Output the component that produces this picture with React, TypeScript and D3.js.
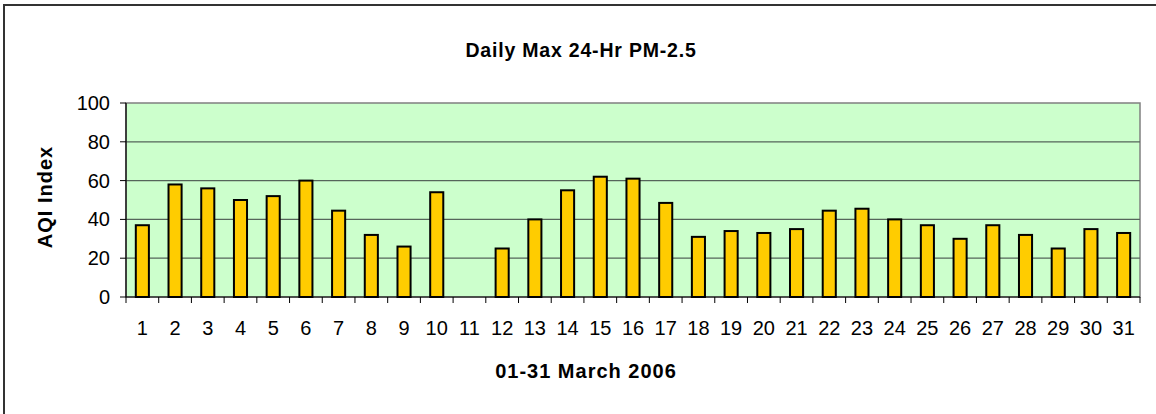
import React from "react";
import * as d3 from "d3";

const days: string[] = Array.from({ length: 31 }, (_, i) => String(i + 1));
const aqi: number[] = [37, 58, 56, 50, 52, 60, 44.5, 32, 26, 54, 0, 25, 40, 55, 62, 61, 48.5, 31, 34, 33, 35, 44.5, 45.5, 40, 37, 30, 37, 32, 25, 35, 33];
const yTicks: number[] = [0, 20, 40, 60, 80, 100];

const W = 1156, H = 414;
const L = 126, R = 1140, T = 103, B = 297;
const FONT = "'Liberation Sans', Arial, sans-serif";

export default function App() {
  const x = d3.scaleBand<string>().domain(days).range([L, R]).paddingInner(0.6).paddingOuter(0.3);
  const y = d3.scaleLinear().domain([0, 100]).range([B, T]);
  const step = x.step();
  const boundaries = d3.range(days.length + 1).map((i) => L + i * step);

  return (
    <svg width={W} height={H} style={{ position: "absolute", left: 0, top: 0, background: "#fff" }} fontFamily={FONT}>
      <rect x={4} y={5} width={1300} height={600} fill="#fff" stroke="#333" strokeWidth={2} />
      <text x={581} y={57} textAnchor="middle" fontWeight="bold" fontSize={19.5} letterSpacing={0.8}>Daily Max 24-Hr PM-2.5</text>
      <rect x={L} y={T} width={R - L} height={B - T} fill="#CCFFCC" stroke="#808080" strokeWidth={1.5} />
      {yTicks.filter((t) => t > 0 && t < 100).map((t) => (
        <line key={"g" + t} x1={L} x2={R} y1={y(t)} y2={y(t)} stroke="#55655a" strokeWidth={1.3} />
      ))}
      {aqi.map((v, i) => v > 0 ? (
        <rect key={"b" + i} x={x(days[i])!} y={y(v)} width={x.bandwidth()} height={B - y(v)} fill="#FFCC00" stroke="#000" strokeWidth={2} />
      ) : null)}
      <line x1={L} x2={L} y1={T} y2={B} stroke="#000" strokeWidth={1.2} />
      <line x1={L} x2={R} y1={B} y2={B} stroke="#000" strokeWidth={1.2} />
      {yTicks.map((t) => (
        <g key={"y" + t}>
          <line x1={L - 6} x2={L} y1={y(t)} y2={y(t)} stroke="#000" />
          <text x={110} y={y(t)} dy="0.35em" textAnchor="end" fontSize={20}>{t}</text>
        </g>
      ))}
      {boundaries.map((bx, i) => (
        <line key={"xt" + i} x1={bx} x2={bx} y1={B} y2={B + 6} stroke="#000" />
      ))}
      {days.map((d) => (
        <text key={"xl" + d} x={x(d)! + x.bandwidth() / 2} y={335} textAnchor="middle" fontSize={20}>{d}</text>
      ))}
      <text x={586} y={378} textAnchor="middle" fontWeight="bold" fontSize={20} letterSpacing={1}>01-31 March 2006</text>
      <text transform="translate(52,197) rotate(-90)" textAnchor="middle" fontWeight="bold" fontSize={20} letterSpacing={1}>AQI Index</text>
    </svg>
  );
}
